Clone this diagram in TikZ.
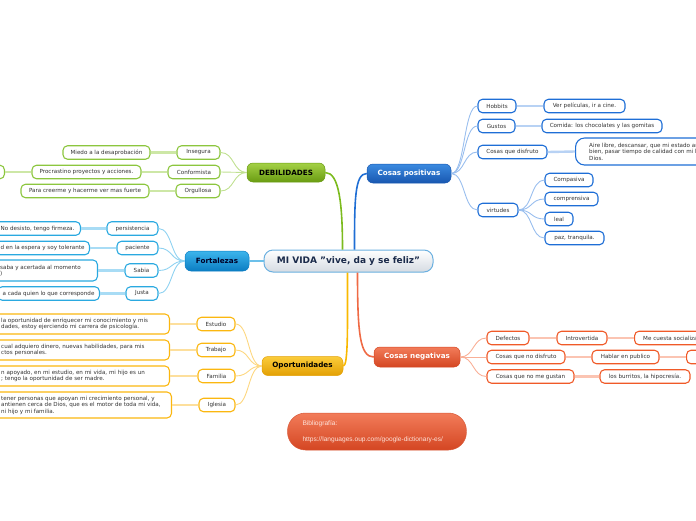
\documentclass[tikz,border=0pt]{standalone}
\usepackage{fontspec}
\setmainfont{DejaVu Sans}
\newfontfamily\bibfamily{Liberation Sans}
\definecolor{txt}{HTML}{333333}
\definecolor{gB}{HTML}{8CC63E}\definecolor{gL}{HTML}{CDE7A6}\definecolor{gM}{HTML}{7CBB1E}
\definecolor{gT}{HTML}{A4D146}\definecolor{gD}{HTML}{6A9C12}
\definecolor{fB}{HTML}{2AA9E0}\definecolor{fL}{HTML}{A8DCF5}\definecolor{fM}{HTML}{6CC0EA}
\definecolor{fT}{HTML}{3CB5EC}\definecolor{fD}{HTML}{0B7DC3}
\definecolor{oB}{HTML}{FBB710}\definecolor{oL}{HTML}{FDDF9C}\definecolor{oM}{HTML}{F9B800}
\definecolor{oT}{HTML}{FBCC3A}\definecolor{oD}{HTML}{E3A004}
\definecolor{pB}{HTML}{1E6ED6}\definecolor{pL}{HTML}{B8D2F4}\definecolor{pM}{HTML}{1F6ED4}
\definecolor{pT}{HTML}{3B8AE0}\definecolor{pD}{HTML}{1857B0}
\definecolor{nB}{HTML}{F05A28}\definecolor{nL}{HTML}{FBC4B2}\definecolor{nM}{HTML}{EF6A45}
\definecolor{nT}{HTML}{F27C5A}\definecolor{nD}{HTML}{D44622}
\definecolor{cB}{HTML}{6BB0E0}\definecolor{cN}{HTML}{1A2A4A}
\definecolor{bibtxt}{HTML}{FDE3DA}
\newcommand{\leaffont}{\fontsize{5.6}{6.5}\selectfont}
\newcommand{\topicfont}{\fontsize{7.2}{8}\selectfont\bfseries}
\newcommand{\cenfont}{\fontsize{9}{10}\selectfont\bfseries}
\tikzset{
  leaf/.style={draw, line width=1.1pt, fill=white, rounded corners=4.5pt, inner sep=0pt,
    minimum height=13.5pt, font=\leaffont, text=txt},
  lg/.style={leaf, draw=gB}, lf/.style={leaf, draw=fB}, lo/.style={leaf, draw=oB},
  lp/.style={leaf, draw=pB}, ln/.style={leaf, draw=nB},
  ltext/.style={font=\leaffont, text=txt, align=left, inner sep=0pt},
  topic/.style={rounded corners=6pt, inner sep=0pt, minimum height=19pt, font=\topicfont, line width=0.5pt},
  cthin/.style={line width=0.9pt},
  cthick/.style={line width=2.4pt},
  cmain/.style={line width=1.6pt},
}
\begin{document}
\begin{tikzpicture}[x=1pt,y=-1pt]
\useasboundingbox (0,0) rectangle (696,520);
\clip (0,0) rectangle (696,520);

% central
\node[draw=cB, line width=1pt, rounded corners=9pt, top color=white, bottom color={rgb,255:red,213;green,219;blue,226},
  minimum width=169pt, minimum height=22pt, inner sep=0pt, font=\cenfont, text=cN] (cen) at (348.5,261) {MI VIDA \char"22 vive, da y se feliz\char"22};

% main topics
\node[topic, draw=gD, top color=gT, bottom color=gD, minimum width=78pt, text=black] (deb) at (286,172.5) {DEBILIDADES};
\node[topic, draw=fD, top color=fT, bottom color=fD, minimum width=64pt, minimum height=20pt, text=black!85!blue] (fort) at (217,261) {Fortalezas};
\node[topic, draw=oD, top color=oT, bottom color=oD, minimum width=81pt, text=black] (op) at (302.5,366) {Oportunidades};
\node[topic, draw=pD, top color=pT, bottom color=pD, minimum width=84pt, text=white] (cp) at (409,173.5) {Cosas positivas};
\node[topic, draw=nD, top color=nT, bottom color=nD, minimum width=86pt, minimum height=20pt, text=white] (cn) at (417,357) {Cosas negativas};

% main connectors
\draw[cmain, gM] (deb.east) .. controls +(14,0) and +(0,-45) .. ([xshift=-6pt]cen.north);
\draw[cmain, pM] ([xshift=6pt]cen.north) .. controls +(0,-50) and +(-12,0) .. (cp.west);
\draw[cmain, oM] ([xshift=-1pt]cen.south) .. controls +(0,55) and +(5,0) .. (op.east);
\draw[cmain, nM] ([xshift=9pt]cen.south) .. controls +(0,60) and +(-14,0) .. (cn.west);
\draw[cmain, fM] (cen.west) -- (fort.east);

% DEBILIDADES
\node[lg, minimum width=43pt] (ins) at (198.5,152.5) {Insegura};
\node[lg, minimum width=52pt] (con) at (194,172) {Conformista};
\node[lg, minimum width=44pt] (org) at (198,191) {Orgullosa};
\node[lg, minimum width=87pt] (miedo) at (106.5,152.5) {Miedo a la desaprobación};
\node[lg, minimum width=109pt] (proc) at (86.5,172) {Procrastino proyectos y acciones.};
\node[lg, minimum width=128pt] (para) at (85,191) {Para creerme y hacerme ver mas fuerte};
\node[lg, minimum width=30pt, anchor=east] (procx) at (5,172) {};
\foreach \c in {ins,con,org}
  \draw[cthin, gL!80!gB] (deb.west) .. controls +(-14,0) and +(14,0) .. (\c.east);
\draw[cthick, gL] (ins.west) -- (miedo.east);
\draw[cthick, gL] (con.west) -- (proc.east);
\draw[cthick, gL] (proc.west) -- (procx.east);
\draw[cthick, gL] (org.west) -- (para.east);

% Fortalezas
\node[lf, minimum width=51pt] (pers) at (132.5,228.5) {persistencia};
\node[lf, minimum width=41pt] (pac) at (137.5,248) {paciente};
\node[lf, minimum width=33pt] (sab) at (141.5,270.5) {Sabia};
\node[lf, minimum width=32pt] (jus) at (142,293.5) {Justa};
\node[lf, anchor=east, inner xsep=6pt] (persx) at (81,228.5) {No desisto, tengo firmeza.};
\node[lf, anchor=east, inner xsep=5pt] (pacx) at (90,248) {d en la espera y soy tolerante};
\node[lf, anchor=east, minimum width=110pt, minimum height=21pt] (sabx) at (98,270.5) {};
\node[ltext, anchor=west] (sabt) at (0,270.5) {saba y acertada al momento\\)};
\node[lf, anchor=east, inner xsep=5pt] (jusx) at (100,293.5) {a cada quien lo que corresponde};
\foreach \c in {pers,pac,sab,jus}
  \draw[cthin, fL!80!fB] (fort.west) .. controls +(-14,0) and +(14,0) .. (\c.east);
\draw[cthick, fL] (pers.west) -- (persx.east);
\draw[cthick, fL] (pac.west) -- (pacx.east);
\draw[cthick, fL] (sab.west) -- (sabx.east);
\draw[cthick, fL] (jus.west) -- (jusx.east);

% Oportunidades
\node[lo, minimum width=38pt] (est) at (216,324) {Estudio};
\node[lo, minimum width=38pt] (tra) at (216,350) {Trabajo};
\node[lo, minimum width=37pt] (fam) at (216.5,376) {Familia};
\node[lo, minimum width=36pt] (igl) at (217,405) {Iglesia};
\node[lo, anchor=east, minimum width=190pt, minimum height=20pt] (estb) at (170,324) {};
\node[ltext, anchor=west] (estt) at (1,324) {la oportunidad de enriquecer mi conocimiento y mis\\dades, estoy ejerciendo mi carrera de psicología.};
\node[lo, anchor=east, minimum width=190pt, minimum height=20pt] (trab) at (170,350) {};
\node[ltext, anchor=west] (trat) at (1,350) {cual adquiero dinero, nuevas habilidades, para mis\\ctos personales.};
\node[lo, anchor=east, minimum width=190pt, minimum height=20pt] (famb) at (170,376) {};
\node[ltext, anchor=west] (famt) at (1,376) {n apoyado, en mi estudio, en mi vida, mi hijo es un\\; tengo la oportunidad de ser madre.};
\node[lo, anchor=east, minimum width=192pt, minimum height=26pt] (iglb) at (172,405) {};
\node[ltext, anchor=west] (iglt) at (1,405) {tener personas que apoyan mi crecimiento personal, y\\antienen cerca de Dios, que es el motor de toda mi vida,\\ni hijo y mi familia.};
\foreach \c in {est,tra,fam,igl}
  \draw[cthin, oL!80!oB] (op.west) .. controls +(-14,0) and +(14,0) .. (\c.east);
\draw[cthick, oL] (est.west) -- (estb.east);
\draw[cthick, oL] (tra.west) -- (trab.east);
\draw[cthick, oL] (fam.west) -- (famb.east);
\draw[cthick, oL] (igl.west) -- (iglb.east);

% Cosas positivas
\node[lp, minimum width=38pt] (hob) at (497,106) {Hobbits};
\node[lp, minimum width=37pt] (gus) at (496.5,126) {Gustos};
\node[lp, minimum width=69pt] (cqd) at (512.5,152) {Cosas que disfruto};
\node[lp, minimum width=40pt] (vir) at (498,210) {virtudes};
\node[lp, minimum width=81pt] (ver) at (584.5,106) {Ver películas, ir a cine.};
\node[lp, minimum width=120pt] (com) at (602,126) {Comida: los chocolates y las gomitas};
\node[lp, anchor=west, minimum width=170pt, minimum height=27pt, rounded corners=9pt] (aireb) at (575,151.5) {};
\node[ltext, anchor=west] (airet) at (589,151.5) {Aire libre, descansar, que mi estado an\\bien, pasar tiempo de calidad con mi h\\Dios.};
\node[lp, minimum width=48pt] (cmp) at (569,180) {Compasiva};
\node[lp, minimum width=53pt] (cpr) at (571.5,199) {comprensiva};
\node[lp, minimum width=28pt] (leal) at (559,219) {leal};
\node[lp, minimum width=59pt] (paz) at (574.5,238) {paz, tranquila.};
\foreach \c in {hob,gus,cqd,vir}
  \draw[cthin, pL!80!pB] (cp.east) .. controls +(14,0) and +(-14,0) .. (\c.west);
\foreach \c in {cmp,cpr,leal,paz}
  \draw[cthin, pL!80!pB] (vir.east) .. controls +(14,0) and +(-14,0) .. (\c.west);
\draw[cthick, pL] (hob.east) -- (ver.west);
\draw[cthick, pL] (gus.east) -- (com.west);
\draw[cthick, pL] (cqd.east) -- (aireb.west);

% Cosas negativas
\node[ln, minimum width=42pt] (def) at (508,338) {Defectos};
\node[ln, minimum width=78pt] (cnd) at (526,357) {Cosas que no disfruto};
\node[ln, minimum width=87pt] (cng) at (530.5,376.5) {Cosas que no me gustan};
\node[ln, minimum width=50pt] (intr) at (582,338) {Introvertida};
\node[ln, minimum width=67pt] (hab) at (625.5,357) {Hablar en publico};
\node[ln, minimum width=90pt] (bur) at (645,376.5) {los burritos, la hipocresía.};
\node[ln, anchor=west, minimum width=90pt] (socb) at (634,338) {};
\node[ltext, anchor=west] (soct) at (643,338) {Me cuesta socializar};
\node[ln, anchor=west, minimum width=50pt] (hxb) at (686,357) {};
\foreach \c in {def,cnd,cng}
  \draw[cthin, nL!80!nB] (cn.east) .. controls +(14,0) and +(-14,0) .. (\c.west);
\draw[cthick, nL] (def.east) -- (intr.west);
\draw[cthick, nL] (intr.east) -- (socb.west);
\draw[cthick, nL] (cnd.east) -- (hab.west);
\draw[cthick, nL] (hab.east) -- (hxb.west);
\draw[cthick, nL] (cng.east) -- (bur.west);

% Bibliografia
\node[rounded corners=18pt, top color=nT, bottom color=nD, draw=nD!90!white, line width=0.5pt,
  minimum width=179pt, minimum height=37pt, inner xsep=15pt, inner ysep=0pt, text width=149pt,
  align=left, font=\bibfamily\fontsize{6.6}{7.5}\selectfont, text=bibtxt] (bib) at (377,431.5)
  {Bibliografía:\\[8.5pt]https://languages.oup.com/google-dictionary-es/};
\end{tikzpicture}
\end{document}
